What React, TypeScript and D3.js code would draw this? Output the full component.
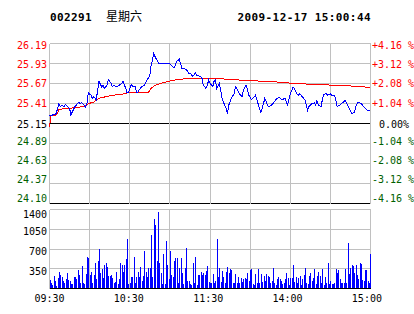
import React from "react";
import * as d3 from "d3";

// ---------- data ----------
const stockCode = "002291";
const weekday = "星期六";
const stamp = "2009-12-17 15:00:44";
const prevClose = 25.15;

const priceTicks = ["26.19", "25.93", "25.67", "25.41", "25.15", "24.89", "24.63", "24.37", "24.10"];
const pctTicks = [4.16, 3.12, 2.08, 1.04, 0, -1.04, -2.08, -3.12, -4.16];
const pctLabels = ["+4.16 %", "+3.12 %", "+2.08 %", "+1.04 %", "0.00%", "-1.04 %", "-2.08 %", "-3.12 %", "-4.16 %"];
const volTicks = [1400, 1050, 700, 350];
const timeLabels = ["09:30", "10:30", "11:30", "14:00", "15:00"];
const timeLabelMin = [0, 60, 120, 180, 240];
const gridMinutes = [30, 60, 90, 120, 150, 180, 210];

const priceMin = [0, 4, 5, 7, 8, 9, 11, 12, 14, 15, 16, 17, 19, 21, 22, 23, 24, 26, 27, 28, 29, 31, 32, 33, 35, 36, 37, 39, 40, 41, 43, 44, 46, 47, 48, 50, 52, 54, 55, 57, 58, 59, 61, 62, 64, 65, 66, 67, 69, 71, 73, 75, 76, 77, 78, 79, 80, 82, 83, 84, 86, 88, 90, 93, 94, 95, 97, 98, 99, 102, 103, 104, 105, 107, 108, 109, 110, 112, 113, 114, 115, 117, 118, 119, 120, 122, 123, 124, 125, 127, 128, 129, 130, 132, 133, 134, 136, 138, 139, 140, 142, 144, 145, 147, 148, 149, 151, 153, 154, 155, 157, 158, 159, 160, 161, 163, 164, 166, 168, 170, 172, 174, 176, 178, 179, 180, 182, 183, 185, 186, 187, 188, 189, 191, 192, 193, 194, 196, 198, 199, 200, 201, 203, 204, 205, 207, 208, 210, 211, 213, 214, 215, 217, 218, 220, 221, 223, 224, 225, 226, 228, 229, 230, 231, 233, 234, 235, 236, 238, 239, 240];
const priceVal = [25.25, 25.27, 25.28, 25.41, 25.37, 25.39, 25.37, 25.40, 25.36, 25.35, 25.26, 25.30, 25.37, 25.41, 25.43, 25.41, 25.42, 25.39, 25.36, 25.41, 25.55, 25.52, 25.48, 25.50, 25.46, 25.59, 25.70, 25.63, 25.65, 25.61, 25.65, 25.72, 25.68, 25.63, 25.65, 25.63, 25.65, 25.67, 25.70, 25.61, 25.55, 25.55, 25.66, 25.64, 25.63, 25.56, 25.55, 25.59, 25.63, 25.65, 25.72, 25.78, 25.91, 25.98, 26.07, 26.02, 25.99, 25.93, 25.94, 25.93, 25.94, 25.93, 25.93, 25.88, 25.91, 25.96, 25.99, 25.93, 25.87, 25.86, 25.84, 25.81, 25.81, 25.77, 25.78, 25.81, 25.78, 25.77, 25.76, 25.74, 25.65, 25.61, 25.65, 25.72, 25.68, 25.63, 25.70, 25.72, 25.61, 25.67, 25.59, 25.48, 25.43, 25.35, 25.28, 25.39, 25.48, 25.54, 25.63, 25.61, 25.54, 25.50, 25.59, 25.65, 25.59, 25.52, 25.46, 25.50, 25.52, 25.46, 25.35, 25.30, 25.35, 25.41, 25.48, 25.39, 25.37, 25.39, 25.43, 25.48, 25.49, 25.46, 25.48, 25.39, 25.46, 25.54, 25.62, 25.61, 25.54, 25.52, 25.54, 25.52, 25.50, 25.46, 25.39, 25.32, 25.37, 25.41, 25.42, 25.39, 25.45, 25.39, 25.37, 25.46, 25.53, 25.54, 25.52, 25.54, 25.52, 25.52, 25.46, 25.37, 25.39, 25.41, 25.43, 25.46, 25.39, 25.35, 25.32, 25.28, 25.30, 25.37, 25.41, 25.43, 25.41, 25.39, 25.37, 25.35, 25.32, 25.32, 25.33];

const avgMin = [0, 1, 5, 6, 7, 12, 16, 20, 25, 28, 31, 33, 37, 42, 47, 54, 58, 67, 74, 76, 79, 84, 89, 94, 104, 119, 133, 149, 165, 179, 198, 215, 226, 234, 240];
const avgVal = [25.10, 25.26, 25.26, 25.28, 25.33, 25.35, 25.35, 25.36, 25.37, 25.40, 25.42, 25.43, 25.48, 25.50, 25.52, 25.53, 25.55, 25.55, 25.56, 25.61, 25.65, 25.68, 25.70, 25.72, 25.74, 25.74, 25.73, 25.71, 25.70, 25.68, 25.66, 25.65, 25.64, 25.63, 25.62];

const volumes = [
  150, 100, 60, 220, 130, 50, 180, 300, 235, 200, 140, 95, 165, 280, 150, 130, 80, 80, 200, 200,
  165, 320, 235, 95, 390, 105, 80, 260, 550, 540, 235, 300, 105, 235, 450, 175, 480, 695, 270, 340,
  190, 410, 460, 375, 225, 225, 235, 190, 105, 120, 300, 80, 165, 450, 410, 295, 425, 520, 870, 80,
  105, 200, 200, 565, 105, 200, 300, 210, 375, 140, 225, 660, 300, 200, 365, 365, 940, 200, 1225, 1120,
  480, 1350, 450, 270, 80, 620, 80, 835, 410, 165, 660, 235, 200, 480, 540, 540, 105, 355, 540, 280,
  80, 355, 720, 130, 130, 80, 60, 450, 95, 565, 60, 245, 245, 295, 235, 270, 235, 305, 400, 120,
  95, 95, 260, 105, 140, 870, 200, 365, 120, 305, 200, 105, 295, 380, 280, 340, 330, 105, 105, 260,
  105, 200, 105, 190, 120, 175, 190, 175, 270, 130, 320, 340, 80, 70, 260, 105, 340, 105, 260, 120,
  225, 140, 260, 215, 205, 95, 130, 365, 105, 70, 175, 200, 165, 130, 80, 105, 165, 270, 190, 60,
  190, 190, 410, 120, 200, 105, 190, 225, 70, 175, 235, 365, 105, 80, 215, 270, 130, 190, 340, 80,
  215, 295, 225, 105, 340, 70, 200, 105, 450, 80, 130, 80, 80, 105, 340, 270, 330, 165, 95, 105,
  105, 340, 105, 810, 260, 365, 425, 390, 270, 410, 235, 165, 460, 440, 155, 130, 330, 330, 130, 105,
  620,
];

// ---------- layout ----------
const W = 414;
const H = 314;
const FONT = "'DejaVu Sans Mono', 'Liberation Mono', monospace";
const RED = "#ff0000";
const GREEN = "#006000";
const BLUE = "#0000ff";
const GRID = "#c0c0c0";

const snap = (v: number) => Math.round(v - 0.5) + 0.5;

export default function App() {
  const xs = d3.scaleLinear().domain([0, 240]).range([49.5, 370.5]);
  const pct = d3.scaleLinear().domain([-4.16, 4.16]).range([203.5, 43.5]);
  const ys = d3
    .scaleLinear()
    .domain([prevClose * (1 - 0.0416), prevClose * (1 + 0.0416)])
    .range([203.5, 43.5]);
  const vs = d3.scaleLinear().domain([0, 1400]).range([288.5, 209.5]);

  const line = d3
    .line<[number, number]>()
    .x((d) => xs(d[0]))
    .y((d) => ys(d[1]));
  const pricePts = priceMin.map((m, i) => [m, priceVal[i]] as [number, number]);
  const avgPts = avgMin.map((m, i) => [m, avgVal[i]] as [number, number]);

  const labelY = (i: number) =>
    i < 4 ? 45 + i * 19.3 : i === 4 ? 124.5 : 141.3 + (i - 5) * 18.9;
  const labelColor = (i: number) => (i < 4 ? RED : i === 4 ? "#000" : GREEN);

  const left = xs(0);
  const right = xs(240);

  return (
    <svg
      width={W}
      height={H}
      style={{ position: "absolute", left: 0, top: 0, background: "#fff" }}
      fontFamily={FONT}
    >
      <rect width={W} height={H} fill="#fff" />
      {/* header */}
      <text x={50} y={21} fontSize={11} fontWeight="bold" letterSpacing={0.4}>
        {stockCode}
      </text>
      <text x={106} y={21} fontSize={12} fontFamily="'Noto Sans CJK SC', sans-serif">
        {weekday}
      </text>
      <text x={237.5} y={21} fontSize={11} fontWeight="bold" letterSpacing={0.4}>
        {stamp}
      </text>

      {/* price grid */}
      <g shapeRendering="crispEdges">
        {pctTicks.map((p, i) => {
          const y = snap(pct(p));
          const black = p === 0 || i === pctTicks.length - 1;
          return (
            <line key={"h" + i} x1={left} x2={right} y1={y} y2={y} stroke={black ? "#000" : GRID} strokeWidth={1} />
          );
        })}
        {gridMinutes.map((m) => (
          <line key={"v" + m} x1={snap(xs(m))} x2={snap(xs(m))} y1={43.5} y2={203.5} stroke={GRID} />
        ))}
        <line x1={left} x2={left} y1={43.5} y2={203.5} stroke={GRID} />
        <line x1={right} x2={right} y1={43.5} y2={203.5} stroke={GRID} />
      </g>

      {/* price labels */}
      {priceTicks.map((t, i) => (
        <text key={"pl" + i} x={47} y={labelY(i)} dy="0.36em" textAnchor="end" fontSize={10} fill={labelColor(i)}>
          {t}
        </text>
      ))}
      {pctLabels.map((t, i) => (
        <text
          key={"pr" + i}
          x={i === 4 ? 379 : 372}
          y={labelY(i)}
          dy="0.36em"
          fontSize={10}
          fill={labelColor(i)}
          style={{ whiteSpace: "pre" }}
        >
          {t}
        </text>
      ))}

      {/* lines */}
      <path d={line(avgPts) || ""} fill="none" stroke={RED} strokeWidth={1} shapeRendering="crispEdges" />
      <path d={line(pricePts) || ""} fill="none" stroke={BLUE} strokeWidth={1} shapeRendering="crispEdges" />

      {/* volume grid */}
      <g shapeRendering="crispEdges">
        {volTicks.map((v) => (
          <line key={"vh" + v} x1={left} x2={right} y1={snap(vs(v))} y2={snap(vs(v))} stroke={GRID} />
        ))}
        {gridMinutes.map((m) => (
          <line key={"vv" + m} x1={snap(xs(m))} x2={snap(xs(m))} y1={209.5} y2={288.5} stroke={GRID} />
        ))}
        <line x1={left} x2={left} y1={209.5} y2={288.5} stroke={GRID} />
        <line x1={right} x2={right} y1={209.5} y2={288.5} stroke={GRID} />
        {volumes.map((v, i) => {
          const x = Math.min(370, Math.round(xs(i)));
          const y = Math.round(vs(v));
          return <rect key={"b" + i} x={x} y={y} width={1} height={289 - y} fill={BLUE} />;
        })}
        <line x1={left} x2={right} y1={288.5} y2={288.5} stroke="#000" />
      </g>

      {/* volume labels */}
      {volTicks.map((v) => (
        <text key={"vl" + v} x={47} y={Math.max(214.5, vs(v) + 2.5)} dy="0.36em" textAnchor="end" fontSize={10} fill="#000">
          {v}
        </text>
      ))}

      {/* time labels */}
      {timeLabels.map((t, i) => (
        <text
          key={"t" + i}
          x={xs(timeLabelMin[i]) - timeLabelMin[i] * 0.015}
          y={298}
          dy="0.36em"
          textAnchor="middle"
          fontSize={10}
          fill="#000"
        >
          {t}
        </text>
      ))}
    </svg>
  );
}
